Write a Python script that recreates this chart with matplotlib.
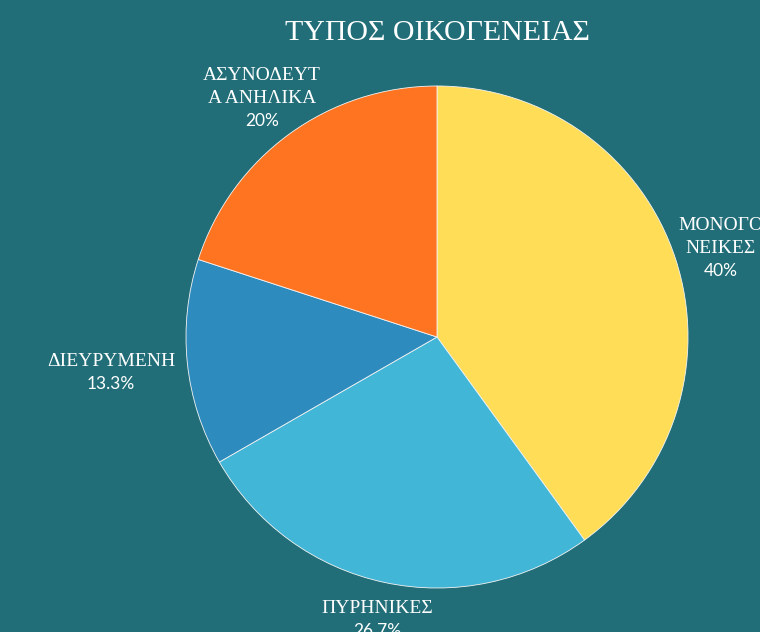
import numpy as np
import matplotlib.pyplot as plt

# data
categories = ['ΜΟΝΟΓΟ\nΝΕΙΚΕΣ', 'ΠΥΡΗΝΙΚΕΣ', 'ΔΙΕΥΡΥΜΕΝΗ', 'ΑΣΥΝΟΔΕΥΤ\nΑ ΑΝΗΛΙΚΑ']
values = [40, 26.7, 13.3, 20]
pct_labels = ['40%', '26.7%', '13.3%', '20%']

colors = ['#FFDD57', '#41B6D6', '#2E8BBE', '#FF7420']
bg = '#216E78'

W, H = 760, 632
cx, cy, R = 437, 337, 251

fig = plt.figure(figsize=(W / 100, H / 100), dpi=100, facecolor=bg)
ax = fig.add_axes([0, 0, 1, 1])
ax.set_facecolor(bg)

ax.pie(values, colors=colors, startangle=90, counterclock=False,
       wedgeprops=dict(edgecolor='#F4F4F4', linewidth=0.6))
ax.set_xlim(-cx / R, (W - cx) / R)
ax.set_ylim(-(H - cy) / R, cy / R)
ax.set_aspect('auto')
ax.axis('off')

# label placement: distance (radii) and small angle nudge (deg) per slice
label_r = [1.174, 1.145, 1.306, 1.148]
label_nudge = [-2.5, 0, 0, 1.4]
total = sum(values)
start = 90.0
for i, v in enumerate(values):
    mid = start - 360 * v / total / 2 + label_nudge[i]
    start -= 360 * v / total
    x = label_r[i] * np.cos(np.radians(mid))
    y = label_r[i] * np.sin(np.radians(mid))
    ax.text(x, y + 0.004, categories[i], ha='center', va='bottom',
            fontsize=14, family='Liberation Serif', color='white',
            linespacing=1.45, clip_on=False)
    ax.text(x, y - 0.02, pct_labels[i], ha='center', va='top',
            fontsize=12.5, family='Lato', color='white', clip_on=False)

fig.text(cx / W, 1 - 33 / H, 'ΤΥΠΟΣ ΟΙΚΟΓΕΝΕΙΑΣ', ha='center', va='center',
         fontsize=21.5, family='Liberation Serif', color='white')

fig.savefig('out.png', dpi=100, facecolor=bg)
